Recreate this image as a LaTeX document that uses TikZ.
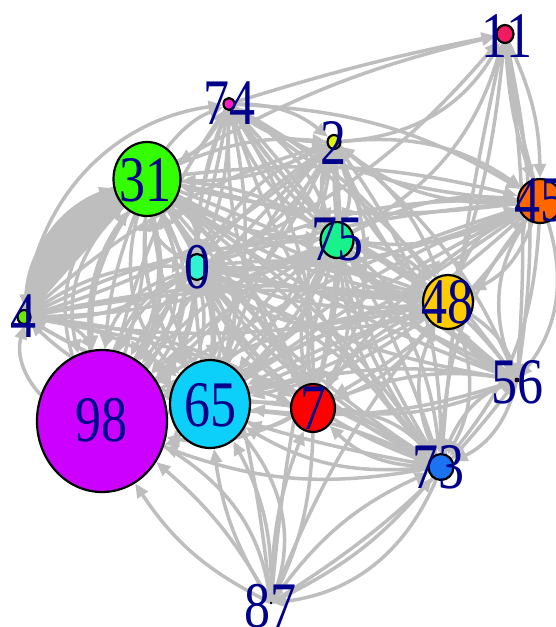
\documentclass[tikz,border=0pt]{standalone}
\usepackage{fontspec}
\usepackage{graphicx}
\setmainfont{Liberation Serif}
\usetikzlibrary{shapes.geometric,arrows.meta}

\definecolor{edgegray}{HTML}{BEBEBE}
\definecolor{lblblue}{HTML}{00008B}
\definecolor{c11}{HTML}{F21B5F}
\definecolor{c74}{HTML}{FF19C8}
\definecolor{c2}{HTML}{DDF50A}
\definecolor{c31}{HTML}{33FF00}
\definecolor{c45}{HTML}{FF6600}
\definecolor{c0}{HTML}{2EF5D0}
\definecolor{c75}{HTML}{19F28C}
\definecolor{c48}{HTML}{FFCC00}
\definecolor{c4}{HTML}{6CE611}
\definecolor{c56}{HTML}{330033}
\definecolor{c98}{HTML}{CC00FF}
\definecolor{c65}{HTML}{0DD0FA}
\definecolor{c7}{HTML}{FF0000}
\definecolor{c73}{HTML}{1B73F2}

\pgfdeclarelayer{edgelayer}
\pgfsetlayers{edgelayer,main}

\begin{document}
\begin{tikzpicture}[x=1pt,y=-1pt,
  vtx/.style={ellipse,draw=black,line width=2.2pt,inner sep=0pt},
  edge/.style={draw=edgegray,line width=3.5pt,-{Triangle[length=14pt,width=12pt]}},
  lbl/.style={text=lblblue,inner sep=0pt,font=\fontsize{52}{52}\selectfont}]
\useasboundingbox (0,0) rectangle (556,627);

% vertices
\node[vtx,fill=c11,minimum width=17pt,minimum height=18pt] (a11) at (505,34) {};
\node[vtx,fill=c74,minimum width=11pt,minimum height=12pt] (a74) at (229,104) {};
\node[vtx,fill=c2,minimum width=13pt,minimum height=14pt] (a2) at (334,142) {};
\node[vtx,fill=c31,minimum width=67pt,minimum height=74pt] (a31) at (147,179) {};
\node[vtx,fill=c45,minimum width=44pt,minimum height=44pt] (a45) at (540,201) {};
\node[vtx,fill=c0,minimum width=20pt,minimum height=26pt] (a0) at (197,267) {};
\node[vtx,fill=c75,minimum width=33pt,minimum height=36pt] (a75) at (337,240) {};
\node[vtx,fill=c48,minimum width=50pt,minimum height=54pt] (a48) at (448,302) {};
\node[vtx,fill=c4,minimum width=13pt,minimum height=14pt] (a4) at (24,317) {};
\node[vtx,fill=c56,minimum width=4pt,minimum height=4pt,line width=0.8pt] (a56) at (517,380) {};
\node[vtx,fill=c98,minimum width=130pt,minimum height=142pt] (a98) at (102,421) {};
\node[vtx,fill=c65,minimum width=80pt,minimum height=88pt] (a65) at (210,404) {};
\node[vtx,fill=c7,minimum width=44pt,minimum height=48pt] (a7) at (313,408) {};
\node[vtx,fill=c73,minimum width=25pt,minimum height=26pt] (a73) at (441,467) {};
\node[vtx,fill=black,minimum width=2pt,minimum height=2pt,line width=0.6pt] (a87) at (271,603) {};

\begin{pgfonlayer}{edgelayer}
% mutual connections inside the core of the network
\foreach \s/\t/\k in {
  a74/a2/20, a74/a31/15, a74/a0/10, a74/a75/18, a74/a48/12, a74/a98/10,
  a74/a65/14, a74/a7/16, a74/a73/12, a74/a45/14, a74/a56/10,
  a2/a31/14, a2/a0/18, a2/a75/22, a2/a48/16, a2/a4/12, a2/a98/12,
  a2/a65/15, a2/a7/10, a2/a73/18, a2/a45/20, a2/a56/14,
  a31/a0/25, a31/a75/14, a31/a48/12, a31/a98/20, a31/a65/18, a31/a7/12,
  a31/a73/10, a31/a45/10, a31/a56/8,
  a0/a75/16, a0/a48/14, a0/a4/18, a0/a98/22, a0/a65/25, a0/a7/14,
  a0/a73/12, a0/a45/12, a0/a56/10,
  a75/a48/20, a75/a4/12, a75/a98/15, a75/a65/14, a75/a7/22, a75/a73/18,
  a75/a45/16, a75/a56/14,
  a48/a4/10, a48/a98/10, a48/a65/12, a48/a7/16, a48/a73/25, a48/a45/22,
  a48/a56/20,
  a4/a98/30, a4/a65/15, a4/a7/12, a4/a73/10,
  a98/a65/30, a98/a7/18, a98/a73/15, a98/a45/8,
  a65/a7/25, a65/a73/18, a65/a45/10, a65/a56/12,
  a7/a73/22, a7/a45/12, a7/a56/15,
  a73/a45/18, a73/a56/25, a45/a56/28}
{
  \draw[edge] (\s) to[bend left=\k] (\t);
  \draw[edge] (\t) to[bend left=\k] (\s);
}

% second layer of arcs through the centre
\foreach \s/\t/\k in {
  a74/a75/-8, a2/a65/-6, a2/a98/-5, a31/a48/-6, a0/a48/-5, a0/a73/-8,
  a75/a98/-6, a7/a2/-8, a65/a75/-10, a48/a65/-4, a73/a31/-6, a7/a31/-5,
  a2/a7/28, a75/a73/-6, a48/a0/30, a45/a0/-6, a45/a65/-4, a73/a0/20}
{
  \draw[edge] (\s) to[bend left=\k] (\t);
}

% dense bundle between 4 and 31
\foreach \k in {0,3,...,33}{
  \draw[edge] (a4) to[bend left=\k] (a31);
  \draw[edge] (a31) to[bend right=\k] (a4);
}
% extra parallel arcs on the left
\foreach \k in {-30,-18,-8,20,35}{
  \draw[edge] (a31) to[bend left=\k] (a98);
  \draw[edge] (a98) to[bend left=\k] (a31);
  \draw[edge] (a31) to[bend left=\k] (a65);
  \draw[edge] (a0) to[bend left=\k] (a98);
}
\draw[edge] (a4) to[bend left=38] (a74);
\draw[edge] (a4) to[bend left=8] (a48);

% vertex 11
\foreach \s/\t/\k in {
  a74/a11/3, a31/a11/8, a2/a11/-28, a75/a11/-22, a0/a11/-12,
  a11/a45/12, a11/a45/-8, a45/a11/4, a11/a56/10, a56/a11/-6,
  a11/a48/6, a11/a73/-4}
{
  \draw[edge] (\s) to[bend left=\k] (\t);
}

% vertex 87
\foreach \s/\t/\k in {
  a87/a98/15, a87/a98/-10, a98/a87/25, a87/a65/12, a87/a65/-15,
  a65/a87/30, a87/a7/10, a7/a87/12, a87/a75/5, a87/a73/15, a87/a73/-12,
  a73/a87/30, a87/a48/8, a87/a56/-10, a87/a0/-6}
{
  \draw[edge] (\s) to[bend left=\k] (\t);
}
\end{pgfonlayer}

% vertex labels
\node[lbl] (t11) at (507,36) {\scalebox{1}[1.25]{11}};
\node[lbl] (t74) at (229,103) {\scalebox{1}[1.25]{74}};
\node[lbl] (t2) at (333,143) {\scalebox{1}[1.25]{2}};
\node[lbl] (t31) at (145,180) {\scalebox{1}[1.25]{31}};
\node[lbl] (t45) at (540,200) {\scalebox{1}[1.25]{45}};
\node[lbl] (t0) at (197,267) {\scalebox{1}[1.25]{0}};
\node[lbl] (t75) at (337,240) {\scalebox{1}[1.25]{75}};
\node[lbl] (t48) at (447,302) {\scalebox{1}[1.25]{48}};
\node[lbl] (t4) at (23,316) {\scalebox{1}[1.25]{4}};
\node[lbl] (t56) at (517,382) {\scalebox{1}[1.25]{56}};
\node[lbl] (t98) at (101,420) {\scalebox{1}[1.25]{98}};
\node[lbl] (t65) at (210,405) {\scalebox{1}[1.25]{65}};
\node[lbl] (t7) at (313,408) {\scalebox{1}[1.25]{7}};
\node[lbl] (t73) at (438,467) {\scalebox{1}[1.25]{73}};
\node[lbl] (t87) at (270,606) {\scalebox{1}[1.25]{87}};
\end{tikzpicture}
\end{document}
